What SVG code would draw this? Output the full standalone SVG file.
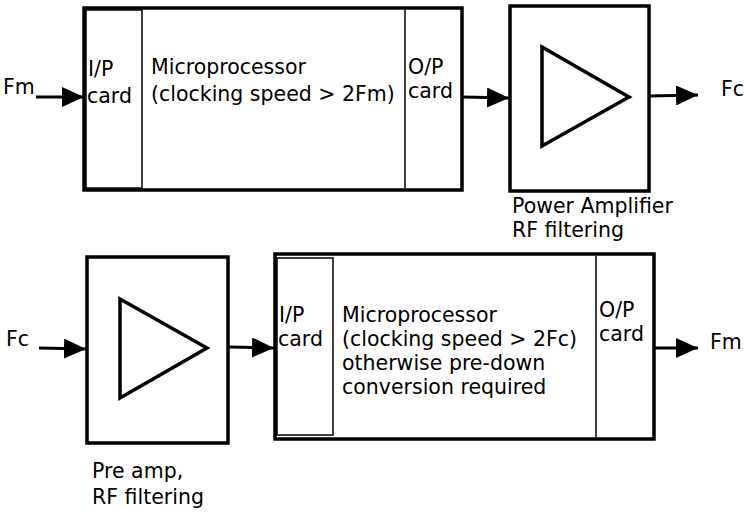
<svg xmlns="http://www.w3.org/2000/svg" width="745" height="512" viewBox="0 0 745 512">
<defs>
<style>
.outer{fill:none;stroke:#000;stroke-width:3.5}
.thin{fill:none;stroke:#000;stroke-width:1.5}
.tri{fill:none;stroke:#000;stroke-width:3.5;stroke-linejoin:miter}
.wire{fill:none;stroke:#000;stroke-width:3}
text{font-family:"DejaVu Sans","Liberation Sans",sans-serif;font-size:20.5px;fill:#000}
</style>
<marker id="ah" viewBox="0 0 22 20" refX="22" refY="10" markerWidth="22" markerHeight="20" markerUnits="userSpaceOnUse" orient="auto">
<path d="M0,0 L22,10 L0,20 Z" fill="#000"/>
</marker>
</defs>
<rect width="745" height="512" fill="#fff"/>
<g id="mp1">
<rect class="outer" x="84" y="8" width="378" height="182"/>
<rect class="thin" x="86" y="10" width="56" height="178"/>
<line class="thin" x1="405" y1="10" x2="405" y2="188"/>
<text x="88" y="76">I/P</text>
<text x="87" y="103">card</text>
<text x="151" y="74">Microprocessor</text>
<text x="151" y="101">(clocking speed &gt; 2Fm)</text>
<text x="408" y="74">O/P</text>
<text x="408" y="98">card</text>
</g>
<g id="pa">
<rect class="outer" x="510" y="6" width="139" height="185"/>
<polygon class="tri" points="542,47 629,97 542,146"/>
<text x="512" y="213">Power Amplifier</text>
<text x="512" y="237">RF filtering</text>
</g>
<g id="pre">
<rect class="outer" x="87" y="257" width="141" height="186"/>
<polygon class="tri" points="120,299 207,348 120,398"/>
<text x="92" y="478">Pre amp,</text>
<text x="92" y="504">RF filtering</text>
</g>
<g id="mp2">
<rect class="outer" x="275" y="254" width="379" height="185"/>
<rect class="thin" x="277" y="258" width="56" height="177"/>
<line class="thin" x1="596" y1="256" x2="596" y2="437"/>
<text x="279" y="322">I/P</text>
<text x="278" y="346">card</text>
<text x="342" y="322">Microprocessor</text>
<text x="342" y="346">(clocking speed &gt; 2Fc)</text>
<text x="342" y="370">otherwise pre-down</text>
<text x="342" y="394">conversion required</text>
<text x="599" y="317">O/P</text>
<text x="599" y="341">card</text>
</g>
<g id="labels">
<text x="3" y="94">Fm</text>
<text x="721" y="96">Fc</text>
<text x="6" y="346">Fc</text>
<text x="710" y="349">Fm</text>
</g>
<g id="connectors">
<line class="wire" x1="36" y1="97" x2="84" y2="97" marker-end="url(#ah)"/>
<line class="wire" x1="463" y1="97" x2="509" y2="98" marker-end="url(#ah)"/>
<line class="wire" x1="650" y1="96" x2="698" y2="95" marker-end="url(#ah)"/>
<line class="wire" x1="39" y1="348" x2="86" y2="349" marker-end="url(#ah)"/>
<line class="wire" x1="229" y1="347" x2="274" y2="348" marker-end="url(#ah)"/>
<line class="wire" x1="655" y1="348" x2="698" y2="348" marker-end="url(#ah)"/>
</g>
</svg>
